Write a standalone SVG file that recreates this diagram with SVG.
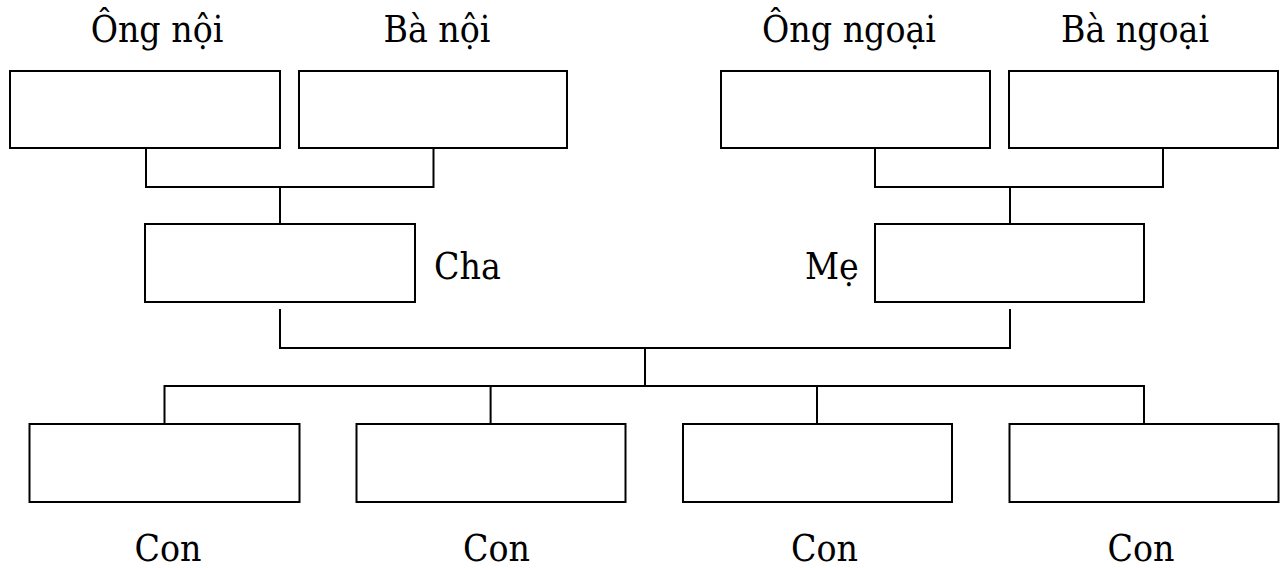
<svg xmlns="http://www.w3.org/2000/svg" width="1280" height="568" viewBox="0 0 1280 568">
<style>
.box{fill:#fff;stroke:#000;stroke-width:2}
.ln{fill:none;stroke:#000;stroke-width:2}
text{font-family:"DejaVu Serif Condensed","DejaVu Serif","Liberation Serif",serif;font-stretch:condensed;font-size:37px;fill:#000}
.m{text-anchor:middle}
</style>
<rect width="1280" height="568" fill="#fff"/>
<g id="connectors">
<path class="ln" d="M146,148 V187 H433.5 V148 M280,187 V225"/>
<path class="ln" d="M875,148 V187 H1163 V148 M1010,187 V225"/>
<path class="ln" d="M280,309 V348 H1010 V309 M645,348 V386"/>
<path class="ln" d="M164.5,424 V386 H1144 V424 M490.6,386 V424 M817,386 V424"/>
</g>
<g id="ong-noi"><rect class="box" x="10" y="71" width="270" height="77"/><text class="m" x="157" y="42">Ông nội</text></g>
<g id="ba-noi"><rect class="box" x="299" y="71" width="268" height="77"/><text class="m" x="437" y="42">Bà nội</text></g>
<g id="ong-ngoai"><rect class="box" x="721" y="71" width="269" height="77"/><text class="m" x="849" y="42">Ông ngoại</text></g>
<g id="ba-ngoai"><rect class="box" x="1009" y="71" width="269" height="77"/><text class="m" x="1135" y="42">Bà ngoại</text></g>
<g id="cha"><rect class="box" x="145" y="224" width="270" height="78"/><text x="434" y="279">Cha</text></g>
<g id="me"><rect class="box" x="875" y="224" width="269" height="78"/><text x="805" y="279">Mẹ</text></g>
<g id="con1"><rect class="box" x="29.5" y="424" width="270" height="78"/><text class="m" x="168" y="561">Con</text></g>
<g id="con2"><rect class="box" x="356.5" y="424" width="269" height="78"/><text class="m" x="496.5" y="561">Con</text></g>
<g id="con3"><rect class="box" x="683" y="424" width="269" height="78"/><text class="m" x="824.5" y="561">Con</text></g>
<g id="con4"><rect class="box" x="1009.5" y="424" width="269" height="78"/><text class="m" x="1141" y="561">Con</text></g>
</svg>
